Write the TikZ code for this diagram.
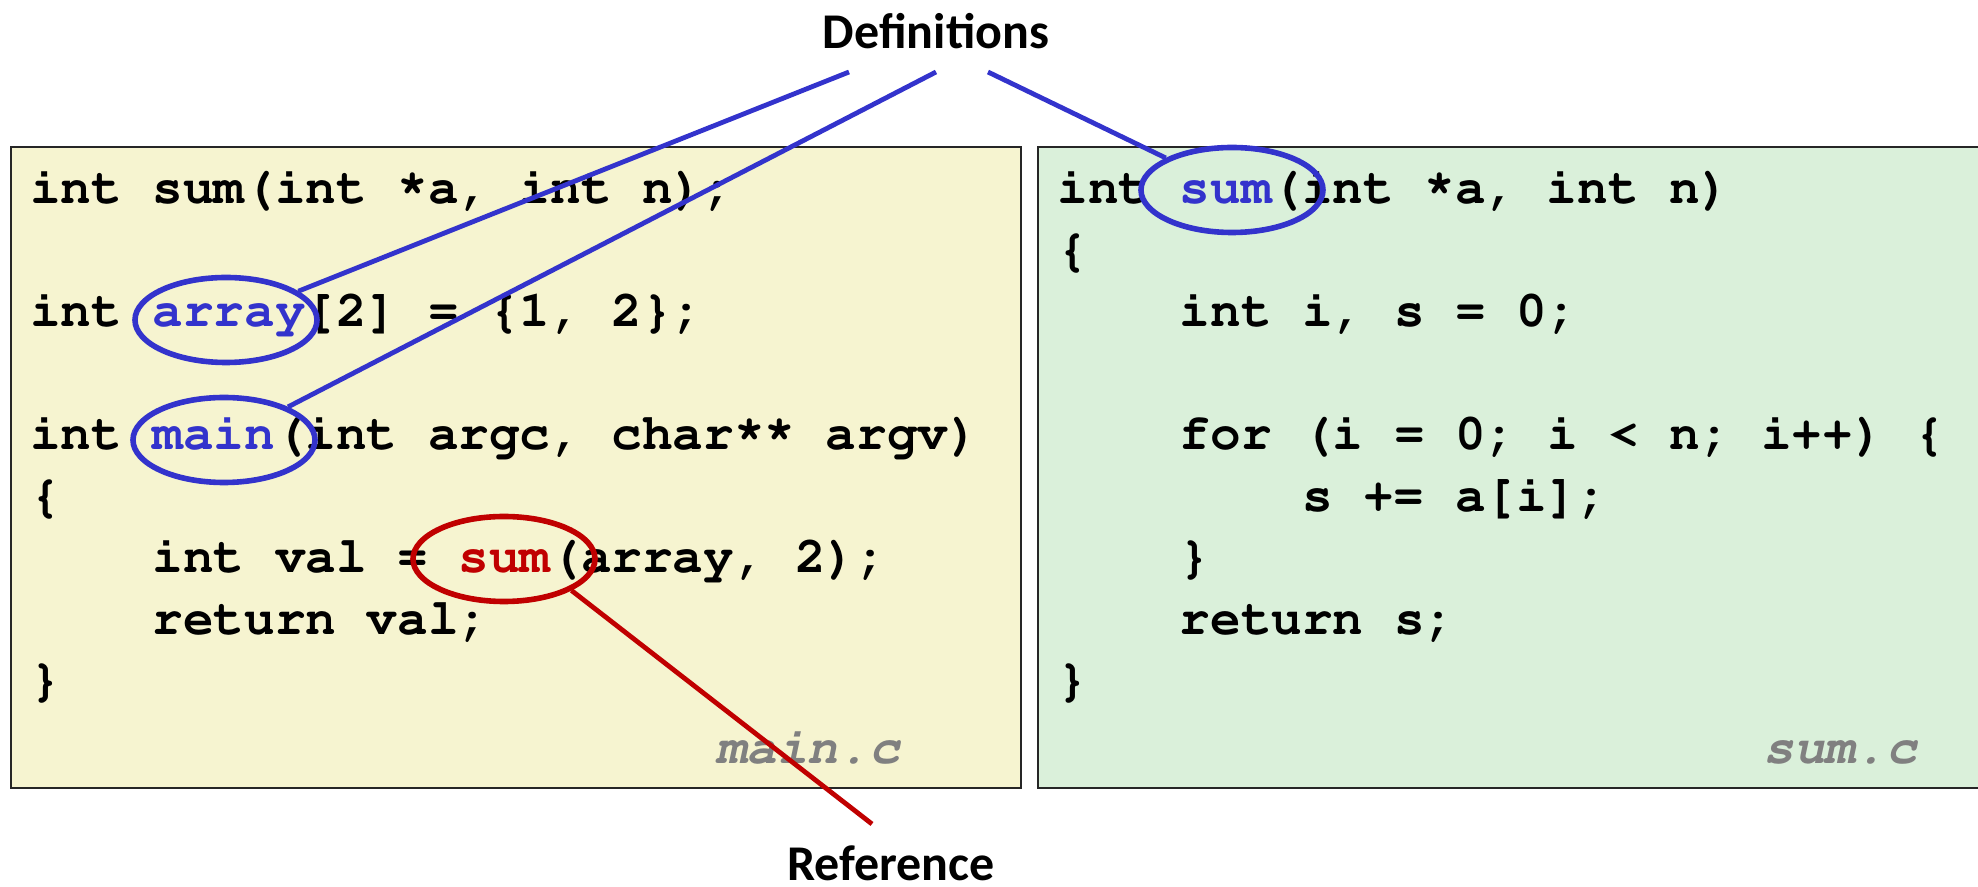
\documentclass[tikz,border=0pt]{standalone}
\usepackage{fontspec}
\setmainfont{Carlito}
\setmonofont{Liberation Mono}
\usetikzlibrary{shapes.geometric}
\definecolor{defblue}{HTML}{3333CC}
\definecolor{refred}{HTML}{C00000}
\definecolor{mainbg}{HTML}{F6F4D0}
\definecolor{sumbg}{HTML}{DAF0DA}
\definecolor{fnamegray}{HTML}{808080}
\newcommand{\ind}{\phantom{0000}}
\newcommand{\st}{\raisebox{3.5pt}{*}}
\newcommand{\cour}{\fontencoding{T1}\fontfamily{pcr}\bfseries\fontsize{25.5}{30}\selectfont}

\begin{document}
\begin{tikzpicture}
  [x=0.5pt,y=-0.5pt,
   code/.style={anchor=base west,inner sep=0pt,font=\cour},
   fname/.style={anchor=base east,inner sep=0pt,text=fnamegray,font=\cour\slshape},
   heading/.style={anchor=base,inner sep=0pt,font=\bfseries\fontsize{25}{28}\selectfont},
   file/.style={draw=black!85,line width=1.2pt},
   defcircle/.style={ellipse,draw=defblue,line width=2.8pt,inner sep=0pt,minimum width=91pt,minimum height=42.5pt},
   refcircle/.style={defcircle,draw=refred},
   link/.style={line width=2.4pt}]
  \useasboundingbox (0,0) rectangle (1978,887);

  \draw[file,fill=mainbg] (11,147) rectangle (1021,788);
  \draw[file,fill=sumbg] (1038,147) rectangle (1995,788);

  % main.c
  \node[code] (m1) at (30,204)   {int sum(int \st a, int n);};
  \node[code] (m2) at (30,327)   {int \textcolor{defblue}{array}[2] = \{1, 2\};};
  \node[code] (m3) at (30,450)   {int \textcolor{defblue}{main}(int argc, char\st\st{} argv)};
  \node[code] (m4) at (30,511.5) {\{};
  \node[code] (m5) at (30,573)   {\ind int val = \textcolor{refred}{sum}(array, 2);};
  \node[code] (m6) at (30,634.5) {\ind return val;};
  \node[code] (m7) at (30,696)   {\}};
  \node[fname] (mf) at (900,763) {main.c};

  % sum.c
  \node[code] (s1) at (1057,204)   {int \textcolor{defblue}{sum}(int \st a, int n)};
  \node[code] (s2) at (1057,265.5) {\{};
  \node[code] (s3) at (1057,327)   {\ind int i, s = 0;};
  \node[code] (s4) at (1057,450)   {\ind for (i = 0; i < n; i++) \{};
  \node[code] (s5) at (1057,511.5) {\ind\ind s += a[i];};
  \node[code] (s6) at (1057,573)   {\ind \}};
  \node[code] (s7) at (1057,634.5) {\ind return s;};
  \node[code] (s8) at (1057,696)   {\}};
  \node[fname] (sf) at (1917,763) {sum.c};

  \node[defcircle] (arr)  at (226,320)  {};
  \node[defcircle] (mn)   at (224,440)  {};
  \node[defcircle] (sm)   at (1232,190) {};
  \node[refcircle] (call) at (504,559)  {};

  \node[heading] (defs) at (936,49)  {Definitions};
  \node[heading] (refs) at (891,880) {Reference};

  \coordinate (d1) at (849,72);
  \coordinate (d2) at (936,72);
  \coordinate (d3) at (988,72);
  \coordinate (r1) at (872,824);

  \foreach \from/\to in {d1/arr,d2/mn,d3/sm}
    \draw[link,defblue] (\from) -- (\to);
  \draw[link,refred] (call.-25) -- (r1);

\end{tikzpicture}
\end{document}
